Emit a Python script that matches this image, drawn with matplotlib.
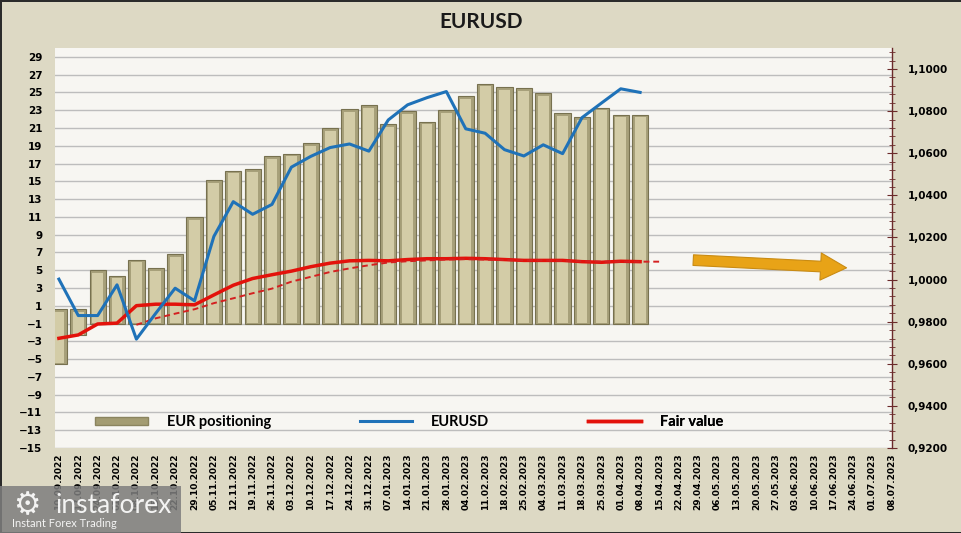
import numpy as np
import matplotlib.pyplot as plt
from matplotlib.patches import Patch, Rectangle
from matplotlib.lines import Line2D
from matplotlib.ticker import FuncFormatter, MultipleLocator

# weekly report dates (category axis)
dates = ["10.09.2022", "17.09.2022", "24.09.2022", "01.10.2022", "08.10.2022",
         "15.10.2022", "22.10.2022", "29.10.2022", "05.11.2022", "12.11.2022",
         "19.11.2022", "26.11.2022", "03.12.2022", "10.12.2022", "17.12.2022",
         "24.12.2022", "31.12.2022", "07.01.2023", "14.01.2023", "21.01.2023",
         "28.01.2023", "04.02.2023", "11.02.2023", "18.02.2023", "25.02.2023",
         "04.03.2023", "11.03.2023", "18.03.2023", "25.03.2023", "01.04.2023",
         "08.04.2023", "15.04.2023", "22.04.2023", "29.04.2023", "06.05.2023",
         "13.05.2023", "20.05.2023", "27.05.2023", "03.06.2023", "10.06.2023",
         "17.06.2023", "24.06.2023", "01.07.2023", "08.07.2023"]

# EUR positioning bars (left axis), top and base of each bar
pos_top = [0.6, 0.6, 5.0, 4.4, 6.2, 5.2, 6.8, 11.0, 15.1, 16.2, 16.4, 17.8,
           18.1, 19.3, 21.0, 23.1, 23.6, 21.4, 22.9, 21.7, 23.0, 24.6, 26.0,
           25.6, 25.5, 24.9, 22.7, 22.2, 23.3, 22.5, 22.5]
pos_base = [-5.5, -2.3] + [-1.0] * 29

# EURUSD price (right axis)
eurusd = [1.0002, 0.9829, 0.9829, 0.9975, 0.9717, 0.9840, 0.9959, 0.9899,
          1.0205, 1.0370, 1.0310, 1.0357, 1.0534, 1.0585, 1.0627, 1.0644,
          1.0610, 1.0758, 1.0830, 1.0864, 1.0893, 1.0716, 1.0695, 1.0617,
          1.0587, 1.0640, 1.0598, 1.0769, 1.0838, 1.0906, 1.0889]

# fair value (right axis)
fair_value = [0.9721, 0.9737, 0.9789, 0.9793, 0.9876, 0.9883, 0.9883, 0.9880,
              0.9927, 0.9973, 1.0005, 1.0023, 1.0040, 1.0061, 1.0078, 1.0089,
              1.0091, 1.0089, 1.0095, 1.0099, 1.0099, 1.0101, 1.0099, 1.0095,
              1.0091, 1.0091, 1.0091, 1.0085, 1.0082, 1.0087, 1.0085]

# dashed fair value trend, starts at 08.10.2022
trend_start = 4
fair_trend = [0.9785, 0.9816, 0.9838, 0.9859, 0.9888, 0.9911, 0.9935, 0.9957,
              0.9990, 1.0013, 1.0036, 1.0053, 1.0068, 1.0081, 1.0087, 1.0091,
              1.0095, 1.0097, 1.0095, 1.0093, 1.0091, 1.0091, 1.0089, 1.0087,
              1.0085, 1.0085, 1.0085, 1.0085]

# forecast arrow (category index, price)
arrow_from = (32.6, 1.0093)
arrow_to = (40.8, 1.0055)

BG = "#DDD9C4"
PLOT_BG = "#F7F6F2"
BLUE = "#1F72B8"
RED = "#E3120B"

fig = plt.figure(figsize=(9.62, 5.33), dpi=100)
fig.patch.set_facecolor(BG)
fig.patch.set_edgecolor("#2b2b2b")
fig.patch.set_linewidth(2)

ax = fig.add_axes([0.0572, 0.1595, 0.87, 0.7505])
ax.set_facecolor(PLOT_BG)
ax2 = ax.twinx()

x_bar = np.arange(len(pos_top))
heights = np.array(pos_top) - np.array(pos_base)
ax.bar(x_bar, heights, bottom=pos_base, width=0.84, color="#A7A07A",
       edgecolor="#77714F", linewidth=0.8, zorder=2)
ax.bar(x_bar, heights - 0.35, bottom=np.array(pos_base) + 0.05, width=0.56,
       color="#D3CCA7", linewidth=0, zorder=3)

ax.set_xlim(-0.2, 43.0)
ax.set_ylim(-15, 30)
ax.set_yticks(np.arange(-15, 30, 2))
ax.yaxis.grid(True, color="#BDBDBD", linewidth=1.0, zorder=0)
ax.set_axisbelow(True)
ax.set_xticks(np.arange(len(dates)))
ax.set_xticklabels(dates, rotation=90, fontsize=6.5, fontweight="bold",
                   family="DejaVu Sans")
ax.tick_params(axis="x", length=0, pad=4)
ax.tick_params(axis="y", length=0, pad=9, labelsize=7.5)
for lab in ax.get_yticklabels():
    lab.set_fontweight("bold")
for s in ax.spines.values():
    s.set_visible(False)

x_line = np.arange(len(eurusd))
ax2.plot(x_line, eurusd, color=BLUE, lw=2.2, solid_joinstyle="round", zorder=5)
ax2.plot(x_line, fair_value, color=RED, lw=2.5, solid_joinstyle="round", zorder=4)
x_tr = np.arange(trend_start, trend_start + len(fair_trend))
ax2.plot(x_tr, fair_trend, color="#D42020", lw=1.4, ls=(0, (3, 2)), zorder=4)

ax2.set_ylim(0.92, 1.11)
ax2.set_yticks(np.arange(0.92, 1.1001, 0.02))
ax2.yaxis.set_minor_locator(MultipleLocator(0.004))
ax2.yaxis.set_major_formatter(FuncFormatter(lambda v, p: f"{v:.4f}".replace(".", ",")))
ax2.tick_params(axis="y", which="major", direction="inout", length=7,
                color="#6B2A2A", pad=8, labelsize=7.5)
ax2.tick_params(axis="y", which="minor", direction="inout", length=4,
                color="#6B2A2A")
for lab in ax2.get_yticklabels():
    lab.set_fontweight("bold")
for k, s in ax2.spines.items():
    s.set_visible(k == "right")
ax2.spines["right"].set_color("#6B2A2A")
ax2.spines["right"].set_linewidth(1.0)

ax2.annotate("", xy=arrow_to, xytext=arrow_from,
             arrowprops=dict(arrowstyle="simple,head_length=1.1,head_width=1.15,tail_width=0.45",
                             fc="#E8A317", ec="#C98B12", lw=0.8, mutation_scale=17),
             zorder=6)

# legend entries placed in one row inside the plot
leg_font = dict(family="Lato", weight="bold", size=10.5)
entries = [
    (Patch(facecolor="#A39C72", edgecolor="#8A845E"), "EUR positioning", 0.048),
    (Line2D([], [], color=BLUE, lw=2.2), "EURUSD", 0.364),
    (Line2D([], [], color=RED, lw=2.5), "Fair value", 0.637),
]
for handle, text, xpos in entries:
    lg = ax2.legend([handle], [text], loc="center left", bbox_to_anchor=(xpos, 0.065),
                    frameon=False, prop=leg_font, handlelength=3.6, handleheight=0.45,
                    handletextpad=1.3, borderpad=0, borderaxespad=0)
    ax2.add_artist(lg)

fig.text(0.5, 0.958, "EURUSD", ha="center", va="center", fontsize=15,
         family="Lato", weight="bold", color="#1a1a1a")

# watermark
fig.patches.append(Rectangle((0.0, 0.0), 0.188, 0.088, transform=fig.transFigure,
                             facecolor="#7E7E7E", alpha=0.85, edgecolor="none", zorder=10))
fig.text(0.058, 0.052, "instaforex", fontsize=19, color="white", alpha=0.9,
         family="Lato", va="center", zorder=11)
fig.text(0.012, 0.018, "Instant Forex Trading", fontsize=8, color="white", alpha=0.9,
         family="Lato", va="center", zorder=11)
fig.text(0.028, 0.052, "\u2699", fontsize=22, color="white", alpha=0.9,
         family="DejaVu Sans", ha="center", va="center", zorder=11)

fig.savefig("out.png", dpi=100, facecolor=fig.get_facecolor(), edgecolor=fig.get_edgecolor())
